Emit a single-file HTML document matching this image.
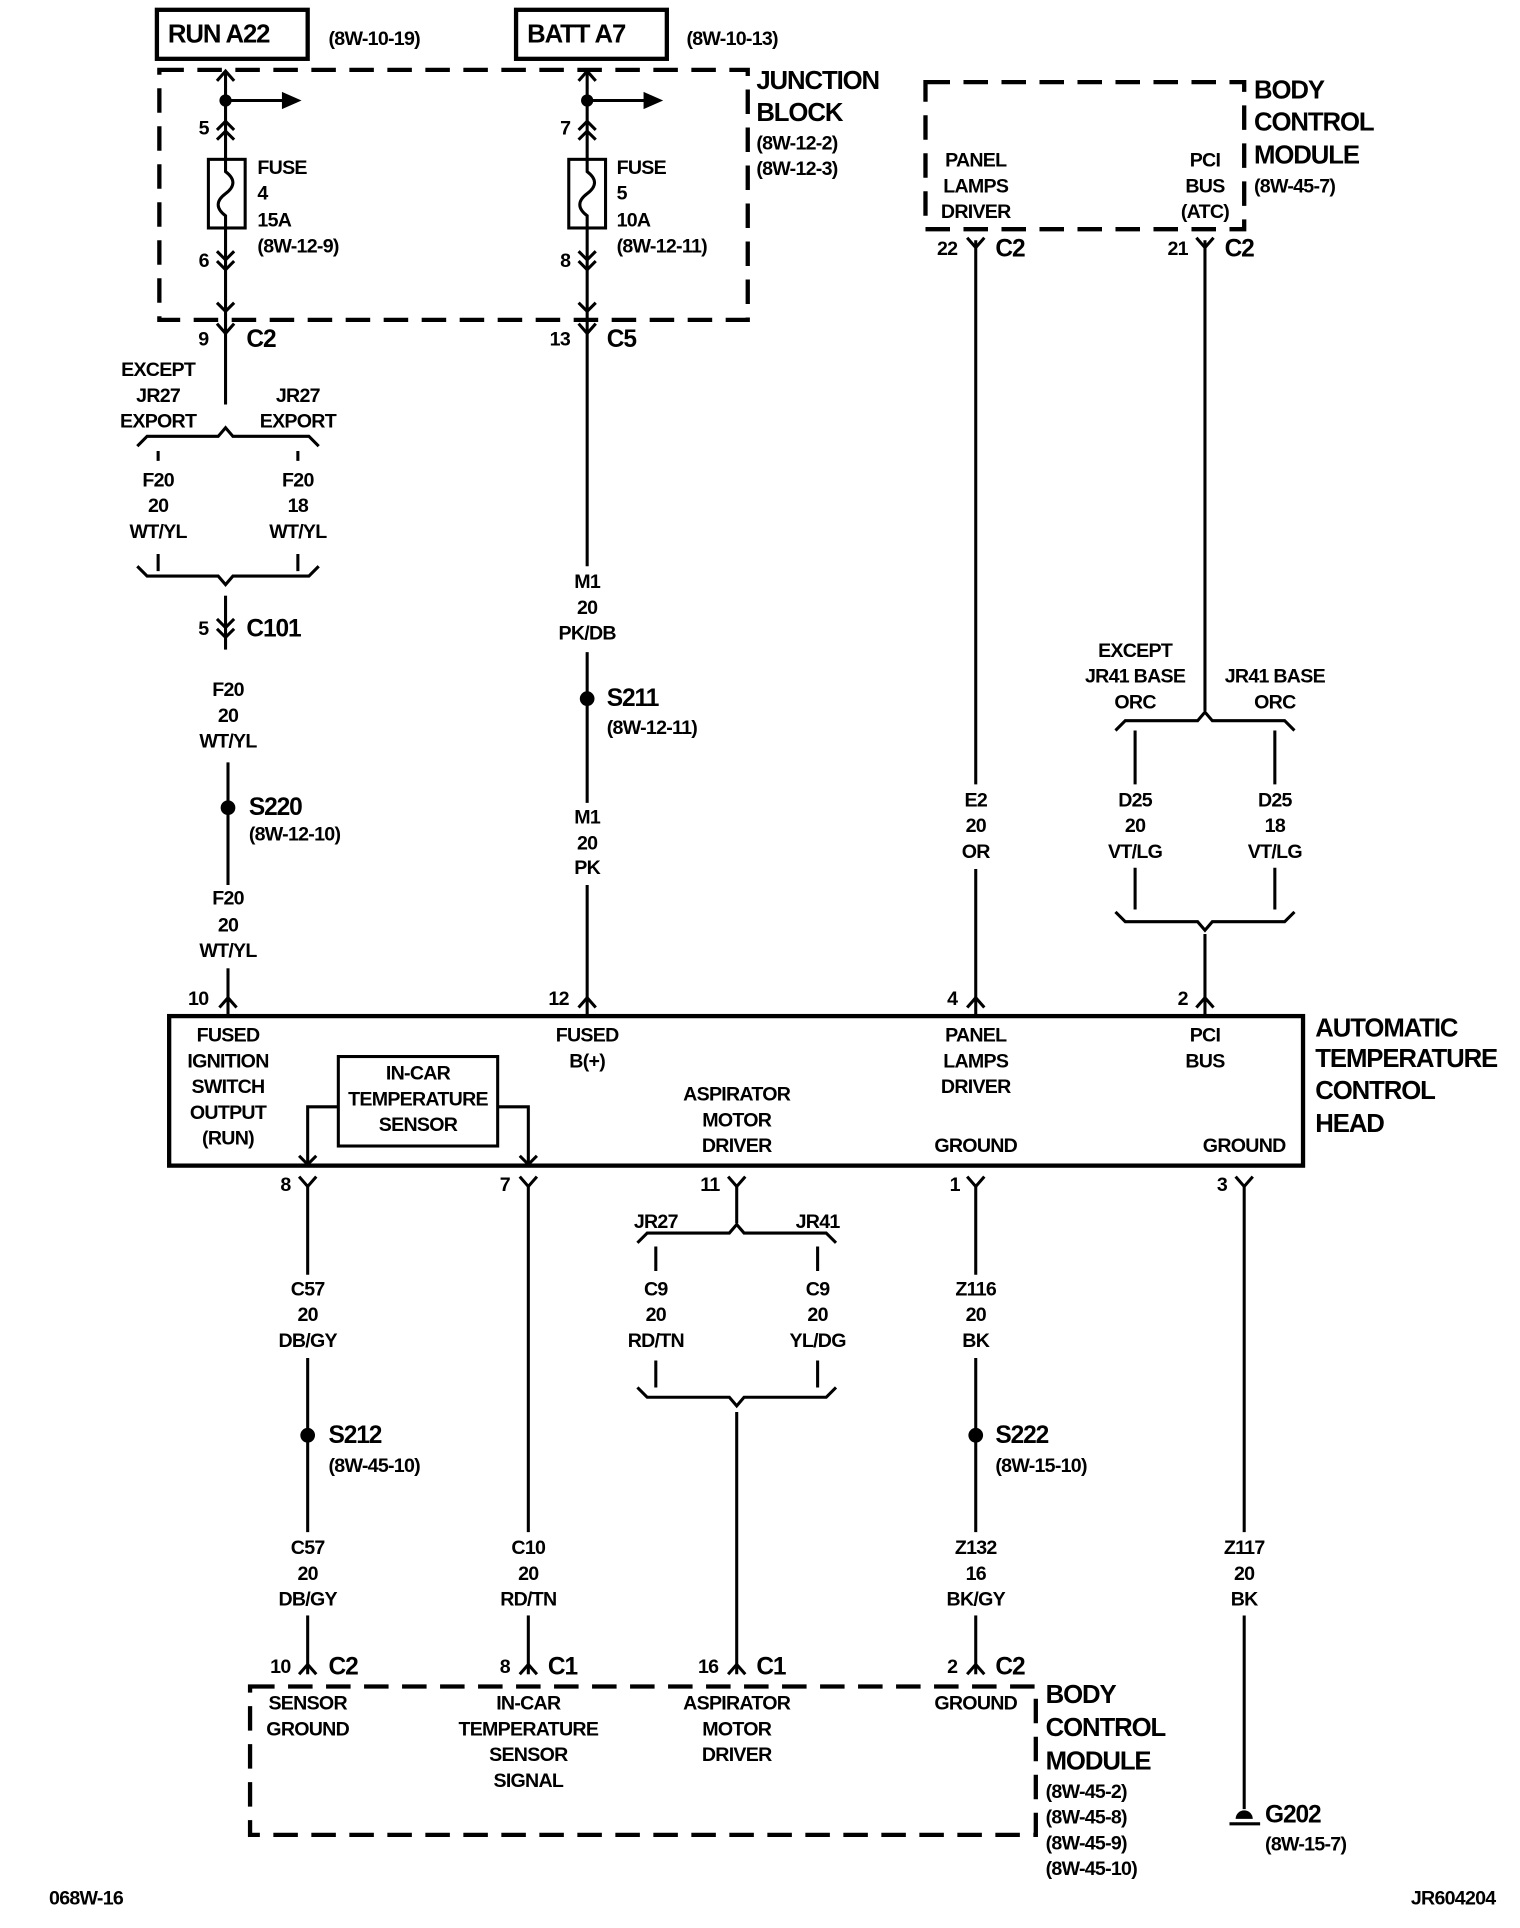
<!DOCTYPE html>
<html><head><meta charset="utf-8">
<style>
html,body{margin:0;padding:0;background:#fff;}
svg{display:block;}
text{font-family:"Liberation Sans Narrow","Liberation Sans",sans-serif;font-size:16px;letter-spacing:-0.6px;fill:#000;dominant-baseline:central;}
.c{text-anchor:middle;}
.r{text-anchor:end;}
.b{font-size:21px;font-weight:bold;letter-spacing:-0.9px;}
.m{font-weight:bold;}
.w{stroke:#000;stroke-width:2.5;fill:none;}
.d{stroke:#000;stroke-width:3.5;fill:none;stroke-dasharray:20 11;}
</style></head>
<body>
<svg width="1520" height="1928" viewBox="0 0 1240 1573" preserveAspectRatio="none" xmlns="http://www.w3.org/2000/svg">
<g class="m">
<rect x="128" y="8" width="123" height="40" fill="none" stroke="#000" stroke-width="3.5"/>
<text x="137" y="28" class="b">RUN A22</text>
<text x="268" y="32">(8W-10-19)</text>
<rect x="421" y="8" width="123" height="40" fill="none" stroke="#000" stroke-width="3.5"/>
<text x="430" y="28" class="b">BATT A7</text>
<text x="560" y="32">(8W-10-13)</text>
<rect x="130" y="57" width="480" height="204" class="d"/>
<text x="617" y="66" class="b">JUNCTION</text>
<text x="617" y="92" class="b">BLOCK</text>
<text x="617" y="117">(8W-12-2)</text>
<text x="617" y="138">(8W-12-3)</text>

<path class="w" d="M184 58 V330"/>
<polyline class="w" points="177,66 184,58 191,66"/>
<circle cx="184" cy="82" r="5"/>
<path class="w" d="M184 82 H232"/>
<polygon points="230,75 246,82 230,89"/>
<polyline class="w" points="177,106 184,99 191,106"/><polyline class="w" points="177,114 184,107 191,114"/>
<rect x="170" y="130" width="30" height="56" fill="#fff" stroke="#000" stroke-width="2.5"/>
<path class="w" d="M184 130 V140 C192 146 192 152 184 158 C176 164 176 170 184 176 V186"/>
<polyline class="w" points="177,205 184,212 191,205"/><polyline class="w" points="177,213 184,220 191,213"/>
<polyline class="w" points="177,247 184,254 191,247"/>
<text x="162" y="105">5</text><text x="162" y="213">6</text>
<text x="210" y="137">FUSE</text><text x="210" y="158">4</text><text x="210" y="180">15A</text><text x="210" y="201">(8W-12-9)</text>
<polyline class="w" points="177,264 184,272 191,264"/>
<text x="170" y="277" class="r">9</text><text x="201" y="277" class="b" style="font-size:20px">C2</text>

<path class="w" d="M479 58 V462"/>
<polyline class="w" points="472,66 479,58 486,66"/>
<circle cx="479" cy="82" r="5"/>
<path class="w" d="M479 82 H527"/>
<polygon points="525,75 541,82 525,89"/>
<polyline class="w" points="472,106 479,99 486,106"/><polyline class="w" points="472,114 479,107 486,114"/>
<rect x="464" y="130" width="30" height="56" fill="#fff" stroke="#000" stroke-width="2.5"/>
<path class="w" d="M479 130 V140 C487 146 487 152 479 158 C471 164 471 170 479 176 V186"/>
<polyline class="w" points="472,205 479,212 486,205"/><polyline class="w" points="472,213 479,220 486,213"/>
<polyline class="w" points="472,247 479,254 486,247"/>
<text x="457" y="105">7</text><text x="457" y="213">8</text>
<text x="503" y="137">FUSE</text><text x="503" y="158">5</text><text x="503" y="180">10A</text><text x="503" y="201">(8W-12-11)</text>
<polyline class="w" points="472,264 479,272 486,264"/>
<text x="465" y="277" class="r">13</text><text x="495" y="277" class="b" style="font-size:20px">C5</text>

<text x="129" y="302" class="c">EXCEPT</text><text x="129" y="323" class="c">JR27</text><text x="129" y="344" class="c">EXPORT</text>
<text x="243" y="323" class="c">JR27</text><text x="243" y="344" class="c">EXPORT</text>
<path class="w" d="M112 364 L120 356 L178 356 L184 349 L190 356 L252 356 L260 364"/>
<path class="w" d="M129 368 V376 M243 368 V376"/>
<text x="129" y="392" class="c">F20</text><text x="129" y="413" class="c">20</text><text x="129" y="434" class="c">WT/YL</text>
<text x="243" y="392" class="c">F20</text><text x="243" y="413" class="c">18</text><text x="243" y="434" class="c">WT/YL</text>
<path class="w" d="M129 452 V466 M243 452 V466"/>
<path class="w" d="M112 462 L120 470 L178 470 L184 477 L190 470 L252 470 L260 462"/>
<path class="w" d="M184 486 V530"/>
<polyline class="w" points="177,505 184,512 191,505"/><polyline class="w" points="177,513 184,520 191,513"/>
<text x="170" y="513" class="r">5</text><text x="201" y="513" class="b" style="font-size:20px">C101</text>
<text x="186" y="563" class="c">F20</text><text x="186" y="584" class="c">20</text><text x="186" y="605" class="c">WT/YL</text>
<path class="w" d="M186 622 V722"/>
<circle cx="186" cy="659" r="6"/>
<text x="203" y="659" class="b" style="font-size:20px">S220</text><text x="203" y="681">(8W-12-10)</text>
<text x="186" y="733" class="c">F20</text><text x="186" y="755" class="c">20</text><text x="186" y="776" class="c">WT/YL</text>
<path class="w" d="M186 790 V829"/>
<polyline class="w" points="179,822 186,814 193,822"/>
<text x="170" y="815" class="r">10</text>

<text x="479" y="475" class="c">M1</text><text x="479" y="496" class="c">20</text><text x="479" y="517" class="c">PK/DB</text>
<path class="w" d="M479 532 V655"/>
<circle cx="479" cy="570" r="6"/>
<text x="495" y="570" class="b" style="font-size:20px">S211</text><text x="495" y="594">(8W-12-11)</text>
<text x="479" y="667" class="c">M1</text><text x="479" y="688" class="c">20</text><text x="479" y="708" class="c">PK</text>
<path class="w" d="M479 722 V829"/>
<polyline class="w" points="472,822 479,814 486,822"/>
<text x="464" y="815" class="r">12</text>

<rect x="755" y="67" width="260" height="120" class="d"/>
<text x="796" y="131" class="c">PANEL</text><text x="796" y="152" class="c">LAMPS</text><text x="796" y="173" class="c">DRIVER</text>
<text x="983" y="131" class="c">PCI</text><text x="983" y="152" class="c">BUS</text><text x="983" y="173" class="c">(ATC)</text>
<text x="1023" y="74" class="b">BODY</text><text x="1023" y="100" class="b">CONTROL</text><text x="1023" y="127" class="b">MODULE</text>
<text x="1023" y="152">(8W-45-7)</text>
<polyline class="w" points="789,194 796,202 803,194"/>
<text x="781" y="203" class="r">22</text><text x="812" y="203" class="b" style="font-size:20px">C2</text>
<polyline class="w" points="976,194 983,202 990,194"/>
<text x="969" y="203" class="r">21</text><text x="999" y="203" class="b" style="font-size:20px">C2</text>
<path class="w" d="M796 196 V640"/>
<text x="796" y="653" class="c">E2</text><text x="796" y="674" class="c">20</text><text x="796" y="695" class="c">OR</text>
<path class="w" d="M796 709 V829"/>
<polyline class="w" points="789,822 796,814 803,822"/>
<text x="781" y="815" class="r">4</text>

<path class="w" d="M983 196 V580"/>
<text x="926" y="531" class="c">EXCEPT</text><text x="926" y="552" class="c">JR41 BASE</text><text x="926" y="573" class="c">ORC</text>
<text x="1040" y="552" class="c">JR41 BASE</text><text x="1040" y="573" class="c">ORC</text>
<path class="w" d="M910 596 L918 588 L977 588 L983 581 L989 588 L1048 588 L1056 596"/>
<path class="w" d="M926 596 V640 M1040 596 V640"/>
<text x="926" y="653" class="c">D25</text><text x="926" y="674" class="c">20</text><text x="926" y="695" class="c">VT/LG</text>
<text x="1040" y="653" class="c">D25</text><text x="1040" y="674" class="c">18</text><text x="1040" y="695" class="c">VT/LG</text>
<path class="w" d="M926 708 V742 M1040 708 V742"/>
<path class="w" d="M910 744 L918 752 L977 752 L983 759 L989 752 L1048 752 L1056 744"/>
<path class="w" d="M983 762 V829"/>
<polyline class="w" points="976,822 983,814 990,822"/>
<text x="969" y="815" class="r">2</text>

<rect x="138" y="829" width="925" height="122" fill="none" stroke="#000" stroke-width="3.5"/>
<text x="186" y="845" class="c">FUSED</text><text x="186" y="866" class="c">IGNITION</text><text x="186" y="887" class="c">SWITCH</text><text x="186" y="908" class="c">OUTPUT</text><text x="186" y="929" class="c">(RUN)</text>
<text x="479" y="845" class="c">FUSED</text><text x="479" y="866" class="c">B(+)</text>
<text x="796" y="845" class="c">PANEL</text><text x="796" y="866" class="c">LAMPS</text><text x="796" y="887" class="c">DRIVER</text>
<text x="983" y="845" class="c">PCI</text><text x="983" y="866" class="c">BUS</text>
<text x="601" y="893" class="c">ASPIRATOR</text><text x="601" y="914" class="c">MOTOR</text><text x="601" y="935" class="c">DRIVER</text>
<text x="796" y="935" class="c">GROUND</text><text x="1015" y="935" class="c">GROUND</text>
<rect x="276" y="862" width="130" height="73" fill="none" stroke="#000" stroke-width="2.5"/>
<text x="341" y="876" class="c">IN-CAR</text><text x="341" y="897" class="c">TEMPERATURE</text><text x="341" y="918" class="c">SENSOR</text>
<path class="w" d="M276 903 H251 V950 M406 903 H431 V950"/>
<polyline class="w" points="244,943 251,950 258,943"/><polyline class="w" points="424,943 431,950 438,943"/>
<text x="1073" y="839" class="b">AUTOMATIC</text><text x="1073" y="864" class="b">TEMPERATURE</text><text x="1073" y="890" class="b">CONTROL</text><text x="1073" y="917" class="b">HEAD</text>

<polyline class="w" points="244,960 251,968 258,960"/><text x="237" y="967" class="r">8</text>
<polyline class="w" points="424,960 431,968 438,960"/><text x="416" y="967" class="r">7</text>
<polyline class="w" points="594,960 601,968 608,960"/><text x="587" y="967" class="r">11</text>
<polyline class="w" points="789,960 796,968 803,960"/><text x="783" y="967" class="r">1</text>
<polyline class="w" points="1008,960 1015,968 1022,960"/><text x="1001" y="967" class="r">3</text>

<path class="w" d="M251 966 V1040"/>
<text x="251" y="1052" class="c">C57</text><text x="251" y="1073" class="c">20</text><text x="251" y="1094" class="c">DB/GY</text>
<path class="w" d="M251 1108 V1250"/>
<circle cx="251" cy="1171" r="6"/>
<text x="268" y="1171" class="b" style="font-size:20px">S212</text><text x="268" y="1196">(8W-45-10)</text>
<text x="251" y="1263" class="c">C57</text><text x="251" y="1284" class="c">20</text><text x="251" y="1305" class="c">DB/GY</text>
<path class="w" d="M251 1318 V1366"/>
<polyline class="w" points="244,1366 251,1358 258,1366"/>
<text x="237" y="1360" class="r">10</text><text x="268" y="1360" class="b" style="font-size:20px">C2</text>

<path class="w" d="M431 966 V1250"/>
<text x="431" y="1263" class="c">C10</text><text x="431" y="1284" class="c">20</text><text x="431" y="1305" class="c">RD/TN</text>
<path class="w" d="M431 1318 V1366"/>
<polyline class="w" points="424,1366 431,1358 438,1366"/>
<text x="416" y="1360" class="r">8</text><text x="447" y="1360" class="b" style="font-size:20px">C1</text>

<path class="w" d="M601 966 V998"/>
<text x="535" y="997" class="c">JR27</text><text x="667" y="997" class="c">JR41</text>
<path class="w" d="M520 1014 L528 1006 L595 1006 L601 999 L607 1006 L674 1006 L682 1014"/>
<path class="w" d="M535 1017 V1037 M667 1017 V1037"/>
<text x="535" y="1052" class="c">C9</text><text x="535" y="1073" class="c">20</text><text x="535" y="1094" class="c">RD/TN</text>
<text x="667" y="1052" class="c">C9</text><text x="667" y="1073" class="c">20</text><text x="667" y="1094" class="c">YL/DG</text>
<path class="w" d="M535 1110 V1132 M667 1110 V1132"/>
<path class="w" d="M520 1132 L528 1140 L595 1140 L601 1147 L607 1140 L674 1140 L682 1132"/>
<path class="w" d="M601 1152 V1366"/>
<polyline class="w" points="594,1366 601,1358 608,1366"/>
<text x="586" y="1360" class="r">16</text><text x="617" y="1360" class="b" style="font-size:20px">C1</text>

<path class="w" d="M796 966 V1040"/>
<text x="796" y="1052" class="c">Z116</text><text x="796" y="1073" class="c">20</text><text x="796" y="1094" class="c">BK</text>
<path class="w" d="M796 1108 V1250"/>
<circle cx="796" cy="1171" r="6"/>
<text x="812" y="1171" class="b" style="font-size:20px">S222</text><text x="812" y="1196">(8W-15-10)</text>
<text x="796" y="1263" class="c">Z132</text><text x="796" y="1284" class="c">16</text><text x="796" y="1305" class="c">BK/GY</text>
<path class="w" d="M796 1318 V1366"/>
<polyline class="w" points="789,1366 796,1358 803,1366"/>
<text x="781" y="1360" class="r">2</text><text x="812" y="1360" class="b" style="font-size:20px">C2</text>

<path class="w" d="M1015 966 V1250"/>
<text x="1015" y="1263" class="c">Z117</text><text x="1015" y="1284" class="c">20</text><text x="1015" y="1305" class="c">BK</text>
<path class="w" d="M1015 1318 V1476"/>
<path d="M1008 1484 A7 7 0 0 1 1022 1484 Z"/>
<path class="w" d="M1003 1488 H1028"/>
<text x="1032" y="1481" class="b" style="font-size:20px">G202</text><text x="1032" y="1505">(8W-15-7)</text>

<rect x="204" y="1376" width="641" height="121" class="d"/>
<text x="251" y="1390" class="c">SENSOR</text><text x="251" y="1411" class="c">GROUND</text>
<text x="431" y="1390" class="c">IN-CAR</text><text x="431" y="1411" class="c">TEMPERATURE</text><text x="431" y="1432" class="c">SENSOR</text><text x="431" y="1453" class="c">SIGNAL</text>
<text x="601" y="1390" class="c">ASPIRATOR</text><text x="601" y="1411" class="c">MOTOR</text><text x="601" y="1432" class="c">DRIVER</text>
<text x="796" y="1390" class="c">GROUND</text>
<text x="853" y="1383" class="b">BODY</text><text x="853" y="1410" class="b">CONTROL</text><text x="853" y="1437" class="b">MODULE</text>
<text x="853" y="1462">(8W-45-2)</text><text x="853" y="1483">(8W-45-8)</text><text x="853" y="1504">(8W-45-9)</text><text x="853" y="1525">(8W-45-10)</text>

<text x="40" y="1549">068W-16</text>
<text x="1220" y="1549" class="r">JR604204</text>
</g>
</svg>
</body></html>
